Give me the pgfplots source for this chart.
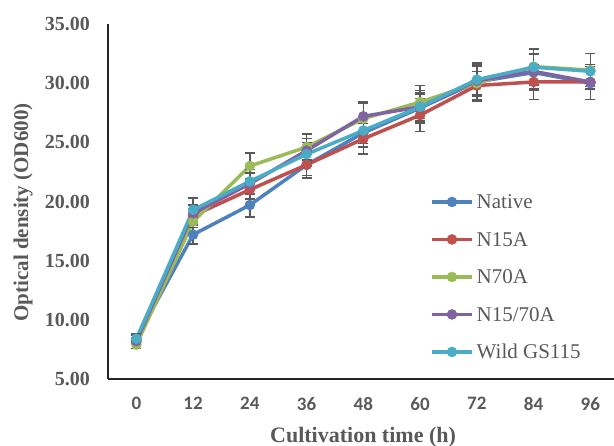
\documentclass[border=0pt]{standalone}
\usepackage{fontspec}
\setmainfont{Liberation Serif}
\newfontfamily\carlito{Carlito}
\usepackage{pgfplots}
\pgfplotsset{compat=1.18}
\definecolor{cNative}{HTML}{4F81BD}
\definecolor{cNfifteen}{HTML}{C0504D}
\definecolor{cNseventy}{HTML}{9BBB59}
\definecolor{cNboth}{HTML}{8064A2}
\definecolor{cWild}{HTML}{4BACC6}
\definecolor{cText}{HTML}{595959}
\definecolor{cErr}{HTML}{595959}

\pgfplotsset{
  series/.style={color=#1, line width=3.5bp, line join=round, mark=*,
    mark size=5bp, mark options={solid, fill=#1, draw=#1, line width=0.5bp},
    error bars/.cd, y dir=both, y explicit,
    error bar style={color=cErr, line width=1.4bp},
    error mark options={rotate=90, mark size=5bp, line width=1.4bp, color=cErr}},
}

\begin{document}
\begin{tikzpicture}
\path[use as bounding box] (-108bp,-67bp) rectangle (506bp,379bp);
\begin{axis}[scale only axis, width=506bp, height=355bp,
  xmin=-6, xmax=101, ymin=5, ymax=35,
  axis lines*=left,
  axis line style={-, line width=1.3bp, color=black!85},
  major tick length=0pt,
  xtick={0,12,...,96}, ytick={5,10,...,35},
  clip=false,
  /pgf/number format/assume math mode=true,
  yticklabel style={font=\bfseries\fontsize{20bp}{22bp}\selectfont, color=cText,
    inner sep=0pt, anchor=east, xshift=-18bp,
    /pgf/number format/fixed, /pgf/number format/fixed zerofill,
    /pgf/number format/precision=2},
  xticklabel style={font=\carlito\bfseries\fontsize{19bp}{21bp}\selectfont, color=cText,
    inner sep=0pt, anchor=north, yshift=-18bp},
  xlabel={Cultivation time (h)},
  ylabel={Optical density (OD600)},
  xlabel style={font=\bfseries\fontsize{22bp}{24bp}\selectfont, color=cText,
    at={(axis description cs:0.504,0)}, anchor=base, yshift=-63bp, inner sep=0pt},
  ylabel style={font=\bfseries\fontsize{21bp}{23bp}\selectfont, color=cText,
    at={(axis description cs:-0.168,0.469)}, anchor=center, inner sep=0pt},
  legend cell align=left,
  legend style={at={(axis cs:62.1,20.57)}, anchor=north west, draw=none, fill=none,
    inner sep=0pt, font=\fontsize{21bp}{23bp}\selectfont, text=cText,
    nodes={inner sep=0pt, text height=14bp, text depth=0pt},
    row sep=23.5bp, column sep=3bp},
  legend image code/.code={\draw[#1, mark repeat=2, mark phase=2]
    plot coordinates {(0bp,0bp) (20bp,0bp) (40bp,0bp)};},
]
\addplot[series=cNative] coordinates {
  (0,8.4) +- (0,0.3) (12,17.2) +- (0,0.8) (24,19.7) +- (0,1.0)
  (36,23.1) +- (0,0.9) (48,25.8) +- (0,1.2) (60,27.9) +- (0,1.2)
  (72,30.1) +- (0,1.5) (84,30.9) +- (0,1.5) (96,30.0) +- (0,1.4)};
\addlegendentry{Native}
\addplot[series=cNfifteen] coordinates {
  (0,8.2) +- (0,0.3) (12,18.8) +- (0,0.6) (24,21.0) +- (0,0.8)
  (36,23.1) +- (0,1.1) (48,25.3) +- (0,1.3) (60,27.3) +- (0,1.4)
  (72,29.8) +- (0,1.2) (84,30.1) +- (0,1.5) (96,30.1) +- (0,1.5)};
\addlegendentry{N15A}
\addplot[series=cNseventy] coordinates {
  (0,7.9) +- (0,0.3) (12,18.3) +- (0,0.5) (24,23.0) +- (0,1.1)
  (36,24.6) +- (0,1.1) (48,27.0) +- (0,1.3) (60,28.4) +- (0,1.4)
  (72,30.0) +- (0,1.5) (84,31.4) +- (0,1.5) (96,31.1) +- (0,1.4)};
\addlegendentry{N70A}
\addplot[series=cNboth] coordinates {
  (0,8.2) +- (0,0.3) (12,19.0) +- (0,0.7) (24,21.5) +- (0,0.9)
  (36,24.3) +- (0,1.0) (48,27.2) +- (0,1.2) (60,28.0) +- (0,1.2)
  (72,30.2) +- (0,1.2) (84,31.0) +- (0,1.5) (96,30.1) +- (0,1.5)};
\addlegendentry{N15/70A}
\addplot[series=cWild] coordinates {
  (0,8.4) +- (0,0.4) (12,19.3) +- (0,1.0) (24,21.7) +- (0,1.0)
  (36,24.0) +- (0,1.0) (48,26.0) +- (0,1.1) (60,28.0) +- (0,1.4)
  (72,30.3) +- (0,1.4) (84,31.35) +- (0,1.5) (96,31.0) +- (0,1.5)};
\addlegendentry{Wild GS115}
\end{axis}
\end{tikzpicture}
\end{document}
